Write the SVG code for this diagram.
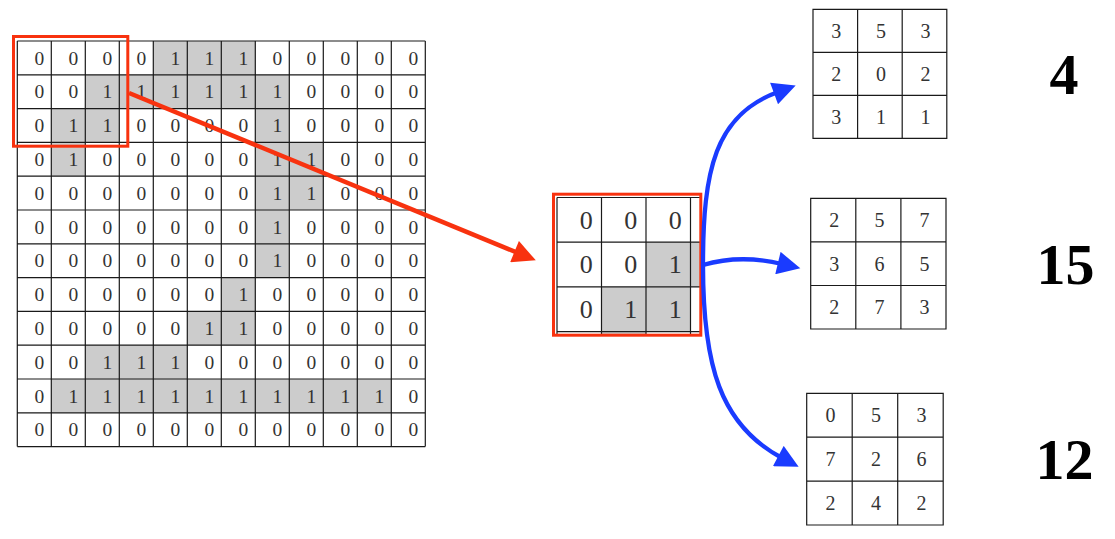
<svg xmlns="http://www.w3.org/2000/svg" width="1115" height="539" viewBox="0 0 1115 539">
<style>
.bg{fill:#ffffff}
.gray{fill:#cccccc}
.grid{fill:none;stroke:#1a1a1a;stroke-width:1.2}
.d{font-family:"Liberation Serif","Times New Roman",serif;font-size:19.5px;fill:#333333;text-anchor:middle}
.dm{font-family:"Liberation Serif","Times New Roman",serif;font-size:26px;fill:#333333;text-anchor:middle}
.dk{font-family:"Liberation Serif","Times New Roman",serif;font-size:20px;fill:#333333;text-anchor:middle}
.score{font-family:"Liberation Serif","Times New Roman",serif;font-size:58px;font-weight:bold;fill:#000000;text-anchor:middle}
.redbox{fill:none;stroke:#f8320f;stroke-width:3}
.red{fill:none;stroke:#f8320f;stroke-width:4.5}
.blue{fill:none;stroke:#1a3bff;stroke-width:4.3}
</style>
<defs>
<marker id="ah-red" markerUnits="userSpaceOnUse" markerWidth="25" markerHeight="23" viewBox="0 0 22 22" refX="4" refY="11" orient="auto">
<path d="M0,0 L22,11 L0,22 z" fill="#f8320f"/>
</marker>
<marker id="ah-blue" markerUnits="userSpaceOnUse" markerWidth="25" markerHeight="23" viewBox="0 0 22 22" refX="4" refY="11" orient="auto">
<path d="M0,0 L22,11 L0,22 z" fill="#1a3bff"/>
</marker>
<clipPath id="patch-clip"><rect x="553.5" y="194.2" width="147.3" height="141"/></clipPath>
</defs>
<rect class="bg" x="0" y="0" width="1115" height="539"/>

<g id="input-grid">
<rect class="gray" x="153.3" y="41" width="102" height="33.8"/>
<rect class="gray" x="85.3" y="74.8" width="204" height="33.8"/>
<rect class="gray" x="51.3" y="108.6" width="68" height="33.8"/>
<rect class="gray" x="255.3" y="108.6" width="34" height="33.8"/>
<rect class="gray" x="51.3" y="142.4" width="34" height="33.8"/>
<rect class="gray" x="255.3" y="142.4" width="68" height="33.8"/>
<rect class="gray" x="255.3" y="176.2" width="68" height="33.8"/>
<rect class="gray" x="255.3" y="210" width="34" height="33.8"/>
<rect class="gray" x="255.3" y="243.8" width="34" height="33.8"/>
<rect class="gray" x="221.3" y="277.6" width="34" height="33.8"/>
<rect class="gray" x="187.3" y="311.4" width="68" height="33.8"/>
<rect class="gray" x="85.3" y="345.2" width="102" height="33.8"/>
<rect class="gray" x="51.3" y="379" width="340" height="33.8"/>
<path class="grid" d="M17.3,41V446.6M51.3,41V446.6M85.3,41V446.6M119.3,41V446.6M153.3,41V446.6M187.3,41V446.6M221.3,41V446.6M255.3,41V446.6M289.3,41V446.6M323.3,41V446.6M357.3,41V446.6M391.3,41V446.6M425.3,41V446.6M17.3,41H425.3M17.3,74.8H425.3M17.3,108.6H425.3M17.3,142.4H425.3M17.3,176.2H425.3M17.3,210H425.3M17.3,243.8H425.3M17.3,277.6H425.3M17.3,311.4H425.3M17.3,345.2H425.3M17.3,379H425.3M17.3,412.8H425.3M17.3,446.6H425.3"/>
<!-- row 0 -->
<text class="d" x="39.3" y="64.5">0</text><text class="d" x="73.3" y="64.5">0</text><text class="d" x="107.3" y="64.5">0</text><text class="d" x="141.3" y="64.5">0</text><text class="d" x="175.3" y="64.5">1</text><text class="d" x="209.3" y="64.5">1</text><text class="d" x="243.3" y="64.5">1</text><text class="d" x="277.3" y="64.5">0</text><text class="d" x="311.3" y="64.5">0</text><text class="d" x="345.3" y="64.5">0</text><text class="d" x="379.3" y="64.5">0</text><text class="d" x="413.3" y="64.5">0</text>
<!-- row 1 -->
<text class="d" x="39.3" y="98.3">0</text><text class="d" x="73.3" y="98.3">0</text><text class="d" x="107.3" y="98.3">1</text><text class="d" x="141.3" y="98.3">1</text><text class="d" x="175.3" y="98.3">1</text><text class="d" x="209.3" y="98.3">1</text><text class="d" x="243.3" y="98.3">1</text><text class="d" x="277.3" y="98.3">1</text><text class="d" x="311.3" y="98.3">0</text><text class="d" x="345.3" y="98.3">0</text><text class="d" x="379.3" y="98.3">0</text><text class="d" x="413.3" y="98.3">0</text>
<!-- row 2 -->
<text class="d" x="39.3" y="132.1">0</text><text class="d" x="73.3" y="132.1">1</text><text class="d" x="107.3" y="132.1">1</text><text class="d" x="141.3" y="132.1">0</text><text class="d" x="175.3" y="132.1">0</text><text class="d" x="209.3" y="132.1">0</text><text class="d" x="243.3" y="132.1">0</text><text class="d" x="277.3" y="132.1">1</text><text class="d" x="311.3" y="132.1">0</text><text class="d" x="345.3" y="132.1">0</text><text class="d" x="379.3" y="132.1">0</text><text class="d" x="413.3" y="132.1">0</text>
<!-- row 3 -->
<text class="d" x="39.3" y="165.9">0</text><text class="d" x="73.3" y="165.9">1</text><text class="d" x="107.3" y="165.9">0</text><text class="d" x="141.3" y="165.9">0</text><text class="d" x="175.3" y="165.9">0</text><text class="d" x="209.3" y="165.9">0</text><text class="d" x="243.3" y="165.9">0</text><text class="d" x="277.3" y="165.9">1</text><text class="d" x="311.3" y="165.9">1</text><text class="d" x="345.3" y="165.9">0</text><text class="d" x="379.3" y="165.9">0</text><text class="d" x="413.3" y="165.9">0</text>
<!-- row 4 -->
<text class="d" x="39.3" y="199.7">0</text><text class="d" x="73.3" y="199.7">0</text><text class="d" x="107.3" y="199.7">0</text><text class="d" x="141.3" y="199.7">0</text><text class="d" x="175.3" y="199.7">0</text><text class="d" x="209.3" y="199.7">0</text><text class="d" x="243.3" y="199.7">0</text><text class="d" x="277.3" y="199.7">1</text><text class="d" x="311.3" y="199.7">1</text><text class="d" x="345.3" y="199.7">0</text><text class="d" x="379.3" y="199.7">0</text><text class="d" x="413.3" y="199.7">0</text>
<!-- row 5 -->
<text class="d" x="39.3" y="233.5">0</text><text class="d" x="73.3" y="233.5">0</text><text class="d" x="107.3" y="233.5">0</text><text class="d" x="141.3" y="233.5">0</text><text class="d" x="175.3" y="233.5">0</text><text class="d" x="209.3" y="233.5">0</text><text class="d" x="243.3" y="233.5">0</text><text class="d" x="277.3" y="233.5">1</text><text class="d" x="311.3" y="233.5">0</text><text class="d" x="345.3" y="233.5">0</text><text class="d" x="379.3" y="233.5">0</text><text class="d" x="413.3" y="233.5">0</text>
<!-- row 6 -->
<text class="d" x="39.3" y="267.3">0</text><text class="d" x="73.3" y="267.3">0</text><text class="d" x="107.3" y="267.3">0</text><text class="d" x="141.3" y="267.3">0</text><text class="d" x="175.3" y="267.3">0</text><text class="d" x="209.3" y="267.3">0</text><text class="d" x="243.3" y="267.3">0</text><text class="d" x="277.3" y="267.3">1</text><text class="d" x="311.3" y="267.3">0</text><text class="d" x="345.3" y="267.3">0</text><text class="d" x="379.3" y="267.3">0</text><text class="d" x="413.3" y="267.3">0</text>
<!-- row 7 -->
<text class="d" x="39.3" y="301.1">0</text><text class="d" x="73.3" y="301.1">0</text><text class="d" x="107.3" y="301.1">0</text><text class="d" x="141.3" y="301.1">0</text><text class="d" x="175.3" y="301.1">0</text><text class="d" x="209.3" y="301.1">0</text><text class="d" x="243.3" y="301.1">1</text><text class="d" x="277.3" y="301.1">0</text><text class="d" x="311.3" y="301.1">0</text><text class="d" x="345.3" y="301.1">0</text><text class="d" x="379.3" y="301.1">0</text><text class="d" x="413.3" y="301.1">0</text>
<!-- row 8 -->
<text class="d" x="39.3" y="334.9">0</text><text class="d" x="73.3" y="334.9">0</text><text class="d" x="107.3" y="334.9">0</text><text class="d" x="141.3" y="334.9">0</text><text class="d" x="175.3" y="334.9">0</text><text class="d" x="209.3" y="334.9">1</text><text class="d" x="243.3" y="334.9">1</text><text class="d" x="277.3" y="334.9">0</text><text class="d" x="311.3" y="334.9">0</text><text class="d" x="345.3" y="334.9">0</text><text class="d" x="379.3" y="334.9">0</text><text class="d" x="413.3" y="334.9">0</text>
<!-- row 9 -->
<text class="d" x="39.3" y="368.7">0</text><text class="d" x="73.3" y="368.7">0</text><text class="d" x="107.3" y="368.7">1</text><text class="d" x="141.3" y="368.7">1</text><text class="d" x="175.3" y="368.7">1</text><text class="d" x="209.3" y="368.7">0</text><text class="d" x="243.3" y="368.7">0</text><text class="d" x="277.3" y="368.7">0</text><text class="d" x="311.3" y="368.7">0</text><text class="d" x="345.3" y="368.7">0</text><text class="d" x="379.3" y="368.7">0</text><text class="d" x="413.3" y="368.7">0</text>
<!-- row 10 -->
<text class="d" x="39.3" y="402.5">0</text><text class="d" x="73.3" y="402.5">1</text><text class="d" x="107.3" y="402.5">1</text><text class="d" x="141.3" y="402.5">1</text><text class="d" x="175.3" y="402.5">1</text><text class="d" x="209.3" y="402.5">1</text><text class="d" x="243.3" y="402.5">1</text><text class="d" x="277.3" y="402.5">1</text><text class="d" x="311.3" y="402.5">1</text><text class="d" x="345.3" y="402.5">1</text><text class="d" x="379.3" y="402.5">1</text><text class="d" x="413.3" y="402.5">0</text>
<!-- row 11 -->
<text class="d" x="39.3" y="436.3">0</text><text class="d" x="73.3" y="436.3">0</text><text class="d" x="107.3" y="436.3">0</text><text class="d" x="141.3" y="436.3">0</text><text class="d" x="175.3" y="436.3">0</text><text class="d" x="209.3" y="436.3">0</text><text class="d" x="243.3" y="436.3">0</text><text class="d" x="277.3" y="436.3">0</text><text class="d" x="311.3" y="436.3">0</text><text class="d" x="345.3" y="436.3">0</text><text class="d" x="379.3" y="436.3">0</text><text class="d" x="413.3" y="436.3">0</text>
</g>

<g id="window-box">
<rect class="redbox" x="13.5" y="36.5" width="114.3" height="109.7"/>
</g>

<g id="zoomed-patch">
<g clip-path="url(#patch-clip)">
<rect class="gray" x="646" y="242.2" width="89" height="44.7"/>
<rect class="gray" x="601.5" y="286.9" width="89" height="44.7"/>
<rect class="gray" x="601.5" y="331.6" width="44.5" height="44.7"/>
<path class="grid" d="M557,197.5V345M601.5,197.5V345M646,197.5V345M690.5,197.5V345M557,197.5H710M557,242.2H710M557,286.9H710M557,331.6H710"/>
</g>
<text class="dm" x="586.3" y="228.6">0</text><text class="dm" x="630.8" y="228.6">0</text><text class="dm" x="675.3" y="228.6">0</text>
<text class="dm" x="586.3" y="273.3">0</text><text class="dm" x="630.8" y="273.3">0</text><text class="dm" x="675.3" y="273.3">1</text>
<text class="dm" x="586.3" y="318">0</text><text class="dm" x="630.8" y="318">1</text><text class="dm" x="675.3" y="318">1</text>
<rect class="redbox" x="553.5" y="194.2" width="147.3" height="141"/>
</g>

<g id="kernel-1">
<path class="grid" d="M813,9.3H946.8V138.3H813Z M857.6,9.3V138.3M902.2,9.3V138.3M813,52.3H946.8M813,95.3H946.8"/>
<text class="dk" x="836.3" y="37.8">3</text><text class="dk" x="880.9" y="37.8">5</text><text class="dk" x="925.5" y="37.8">3</text>
<text class="dk" x="836.3" y="80.8">2</text><text class="dk" x="880.9" y="80.8">0</text><text class="dk" x="925.5" y="80.8">2</text>
<text class="dk" x="836.3" y="123.8">3</text><text class="dk" x="880.9" y="123.8">1</text><text class="dk" x="925.5" y="123.8">1</text>
</g>

<g id="kernel-2">
<path class="grid" d="M810.7,198.3H946V329H810.7Z M855.8,198.3V329M900.9,198.3V329M810.7,241.9H946M810.7,285.5H946"/>
<text class="dk" x="834.3" y="227.1">2</text><text class="dk" x="879.4" y="227.1">5</text><text class="dk" x="924.5" y="227.1">7</text>
<text class="dk" x="834.3" y="270.7">3</text><text class="dk" x="879.4" y="270.7">6</text><text class="dk" x="924.5" y="270.7">5</text>
<text class="dk" x="834.3" y="314.3">2</text><text class="dk" x="879.4" y="314.3">7</text><text class="dk" x="924.5" y="314.3">3</text>
</g>

<g id="kernel-3">
<path class="grid" d="M806.7,393.3H943.2V525H806.7Z M852.2,393.3V525M897.7,393.3V525M806.7,437.2H943.2M806.7,481.1H943.2"/>
<text class="dk" x="830.5" y="422.3">0</text><text class="dk" x="876" y="422.3">5</text><text class="dk" x="921.5" y="422.3">3</text>
<text class="dk" x="830.5" y="466.2">7</text><text class="dk" x="876" y="466.2">2</text><text class="dk" x="921.5" y="466.2">6</text>
<text class="dk" x="830.5" y="510">2</text><text class="dk" x="876" y="510">4</text><text class="dk" x="921.5" y="510">2</text>
</g>

<g id="score-1"><text class="score" x="1064" y="94">4</text></g>
<g id="score-2"><text class="score" x="1065.5" y="284">15</text></g>
<g id="score-3"><text class="score" x="1064.5" y="478.5">12</text></g>

<g id="connectors">
<path class="red" d="M129,93 L518.4,253.2" marker-end="url(#ah-red)"/>
<path class="blue" d="M703,265 C703,170 715,115 778,92" marker-end="url(#ah-blue)"/>
<path class="blue" d="M703,265 Q740,254 782,264" marker-end="url(#ah-blue)"/>
<path class="blue" d="M703,265 C703,365 720,425 782,458" marker-end="url(#ah-blue)"/>
</g>
</svg>
